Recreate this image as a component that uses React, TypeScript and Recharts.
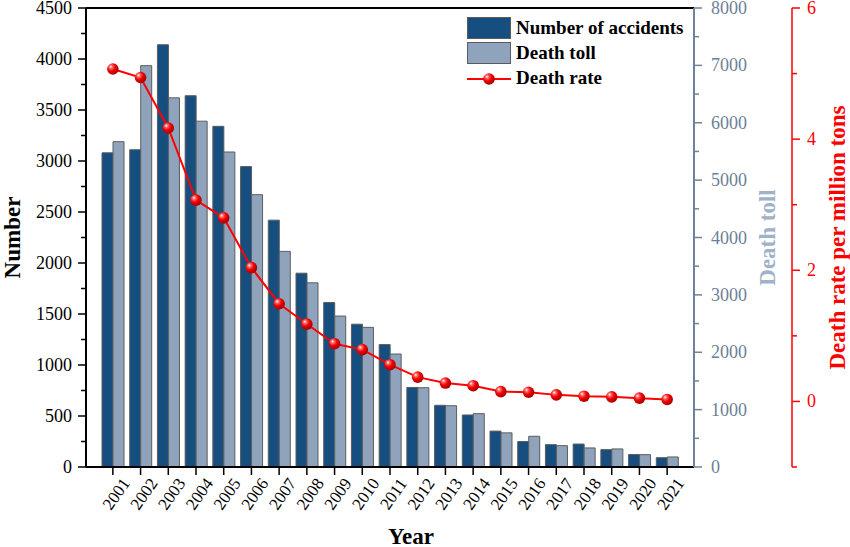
import React from 'react';
import {
  ComposedChart, Bar, Line, XAxis, YAxis, Legend, ReferenceLine, Label,
} from 'recharts';

const years = ['2001','2002','2003','2004','2005','2006','2007','2008','2009','2010','2011','2012','2013','2014','2015','2016','2017','2018','2019','2020','2021'];
const accidents = [3080, 3110, 4140, 3640, 3340, 2945, 2420, 1900, 1613, 1400, 1200, 780, 605, 510, 352, 250, 219, 225, 170, 122, 91];
const deathToll = [5670, 6995, 6434, 6027, 5490, 4746, 3758, 3210, 2631, 2434, 1969, 1382, 1068, 930, 595, 535, 372, 332, 315, 215, 175];
const deathRate = [5.07, 4.94, 4.17, 3.07, 2.80, 2.04, 1.49, 1.18, 0.88, 0.79, 0.56, 0.37, 0.28, 0.24, 0.15, 0.14, 0.10, 0.08, 0.07, 0.05, 0.03];

const leftTicks = [0,250,500,750,1000,1250,1500,1750,2000,2250,2500,2750,3000,3250,3500,3750,4000,4250,4500];
const tollTicks = [0,500,1000,1500,2000,2500,3000,3500,4000,4500,5000,5500,6000,6500,7000,7500,8000];
const rateTicks = [-1,0,1,2,3,4,5,6];

const data = years.map((y, i) => ({ year: y, accidents: accidents[i], toll: deathToll[i], rate: deathRate[i] }));

const FONT = '"Liberation Serif", "Times New Roman", serif';
const DARK = '#164e80';
const LIGHT = '#8fa4bc';
const TOLL_AXIS = '#70829a';
const TOLL_TEXT = '#6d7f95';
const TOLL_TITLE = '#9fb3c8';
const RED = '#ff0000';

const Sphere = (p: any) => {
  const { cx, cy } = p;
  if (cx == null || cy == null) return null;
  return (
    <g>
      <defs>
        <radialGradient id="sphGrad" cx="38%" cy="35%" r="65%" fx="32%" fy="30%">
          <stop offset="0%" stopColor="#ffffff" />
          <stop offset="22%" stopColor="#ff6a6a" />
          <stop offset="55%" stopColor="#f00000" />
          <stop offset="100%" stopColor="#a80000" />
        </radialGradient>
      </defs>
      <circle cx={cx} cy={cy} r={5.8} fill="url(#sphGrad)" />
    </g>
  );
};

const LeftTick = (p: any) => {
  const v = p.payload.value;
  const ax = p.x + 14;
  const major = v % 500 === 0;
  return (
    <g>
      <line x1={ax} x2={ax - (major ? 8 : 5)} y1={p.y} y2={p.y} stroke="#000" strokeWidth={1.5} />
      {major && (
        <text x={p.x} y={p.y} textAnchor="end" dominantBaseline="central" fontFamily={FONT} fontSize={18} fill="#000">{v}</text>
      )}
    </g>
  );
};

const TollTick = (p: any) => {
  const v = p.payload.value;
  const ax = p.x - 17;
  const major = v % 1000 === 0;
  return (
    <g>
      <line x1={ax} x2={ax + (major ? 8 : 5)} y1={p.y} y2={p.y} stroke={TOLL_AXIS} strokeWidth={1.5} />
      {major && (
        <text x={p.x} y={p.y} textAnchor="start" dominantBaseline="central" fontFamily={FONT} fontSize={18} fill={TOLL_TEXT}>{v}</text>
      )}
    </g>
  );
};

const RateTick = (p: any) => {
  const v = p.payload.value;
  const ax = p.x - 15;
  const major = v % 2 === 0 && v >= 0;
  return (
    <g>
      <line x1={ax} x2={ax + (major ? 8 : 5)} y1={p.y} y2={p.y} stroke={RED} strokeWidth={1.5} />
      {major && (
        <text x={p.x} y={p.y} textAnchor="start" dominantBaseline="central" fontFamily={FONT} fontSize={18} fill={RED}>{v}</text>
      )}
    </g>
  );
};

const XTick = (p: any) => {
  const cx = p.x + 3.5;
  const cy = p.y + 17;
  return (
    <text x={cx} y={cy} textAnchor="middle" dominantBaseline="central" fontFamily={FONT} fontSize={17} fill="#000"
      transform={`rotate(-55, ${cx}, ${cy})`}>{p.payload.value}</text>
  );
};

const vTitle = (text: string, dx: number, color: string) => (props: any) => {
  const vb = props.viewBox || {};
  const cx = (vb.x || 0) + dx;
  const cy = (vb.y || 0) + (vb.height || 0) / 2;
  return (
    <text x={cx} y={cy} textAnchor="middle" dominantBaseline="central" fontFamily={FONT} fontSize={23} fontWeight="bold" fill={color}
      transform={`rotate(-90, ${cx}, ${cy})`}>{text}</text>
  );
};

const yearTitle = (props: any) => {
  const vb = props.viewBox || {};
  return (
    <text x={(vb.x || 0) + 325} y={544} textAnchor="middle" fontFamily={FONT} fontSize={23} fontWeight="bold" fill="#000">Year</text>
  );
};

const LegendBox = () => (
  <svg width={240} height={80} style={{ display: 'block' }}>
    <defs>
      <radialGradient id="sphGradL" cx="38%" cy="35%" r="65%" fx="32%" fy="30%">
        <stop offset="0%" stopColor="#ffffff" />
        <stop offset="22%" stopColor="#ff6a6a" />
        <stop offset="55%" stopColor="#f00000" />
        <stop offset="100%" stopColor="#a80000" />
      </radialGradient>
    </defs>
    <rect x={0.5} y={0.5} width={43} height={21} fill={DARK} stroke="#5c5c5c" strokeWidth={1} />
    <text x={49} y={17} fontFamily={FONT} fontSize={19} fontWeight="bold" fill="#000">Number of accidents</text>
    <rect x={0.5} y={25.5} width={43} height={21} fill={LIGHT} stroke="#5c5c5c" strokeWidth={1} />
    <text x={49} y={42} fontFamily={FONT} fontSize={19} fontWeight="bold" fill="#000">Death toll</text>
    <line x1={0} x2={44} y1={62} y2={62} stroke={RED} strokeWidth={2} />
    <circle cx={22} cy={62} r={5.8} fill="url(#sphGradL)" />
    <text x={49} y={67} fontFamily={FONT} fontSize={19} fontWeight="bold" fill="#000">Death rate</text>
  </svg>
);

export default function App() {
  return (
    <div style={{ position: 'absolute', left: 0, top: 0, width: 850, height: 547, background: '#fff' }}>
      <ComposedChart width={850} height={547} data={data} margin={{ top: 8, right: 0, bottom: 0, left: 0 }} barGap={0}>
        <XAxis dataKey="year" height={80} padding={{ left: 13, right: 13 }} interval={0}
          axisLine={{ stroke: '#000', strokeWidth: 2 }} tickLine={{ stroke: '#000', strokeWidth: 1.5 }}
          tickSize={8} tickMargin={2} tick={<XTick />}>
          <Label content={yearTitle} />
        </XAxis>
        <YAxis yAxisId="l0" orientation="left" width={86} domain={[0, 4500]} ticks={leftTicks} interval={0}
          axisLine={{ stroke: '#000', strokeWidth: 2 }} tickLine={false} tickSize={8} tickMargin={6} tick={<LeftTick />}
          allowDataOverflow>
          <Label content={vTitle('Number', 12, '#000')} />
        </YAxis>
        <YAxis yAxisId="r2" orientation="right" width={58} domain={[-1, 6]} ticks={rateTicks} interval={0}
          axisLine={{ stroke: RED, strokeWidth: 1.5 }} tickLine={false} tickSize={8} tickMargin={7} tick={<RateTick />}
          allowDataOverflow>
          <Label content={vTitle('Death rate per million tons', 45, RED)} />
        </YAxis>
        <YAxis yAxisId="r1" orientation="right" width={98} domain={[0, 8000]} ticks={tollTicks} interval={0}
          axisLine={{ stroke: TOLL_AXIS, strokeWidth: 2 }} tickLine={false} tickSize={8} tickMargin={9} tick={<TollTick />}
          allowDataOverflow>
          <Label content={vTitle('Death toll', 73, TOLL_TITLE)} />
        </YAxis>
        <ReferenceLine yAxisId="l0" y={4500} stroke="#000" strokeWidth={2} />
        <Bar yAxisId="l0" dataKey="accidents" name="Number of accidents" fill={DARK} stroke="#5c5c5c" strokeWidth={1} barSize={11} isAnimationActive={false} />
        <Bar yAxisId="r1" dataKey="toll" name="Death toll" fill={LIGHT} stroke="#5c5c5c" strokeWidth={1} barSize={11} isAnimationActive={false} />
        <Line yAxisId="r2" dataKey="rate" name="Death rate" stroke={RED} strokeWidth={2} dot={<Sphere />} activeDot={false} isAnimationActive={false} />
        <Legend layout="horizontal" verticalAlign="middle" align="center" content={<LegendBox />}
          wrapperStyle={{ position: 'absolute', top: 17, left: 467, width: 240, height: 80 }} />
      </ComposedChart>
    </div>
  );
}
